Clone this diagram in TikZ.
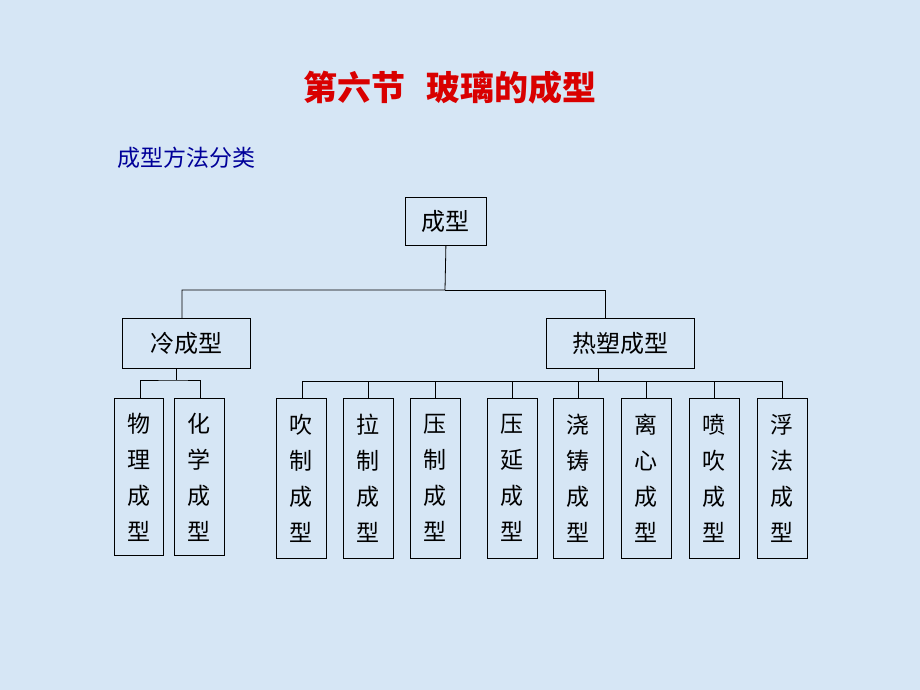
\documentclass[tikz,border=0pt]{standalone}
\usepackage{fontspec}
\newfontfamily\cjk{Noto Sans CJK SC}
\begin{document}
\begin{tikzpicture}[x=1pt,y=-1pt,
 box/.style={draw,line width=0.8pt,font=\cjk\fontsize{24}{30}\selectfont,inner sep=0pt,anchor=north west},
 vbox/.style={box,align=center,font=\cjk\fontsize{23}{36}\selectfont},
 ln/.style={line width=0.8pt}]
\fill[fill={rgb,255:red,214;green,230;blue,245}] (0,0) rectangle (920,690);
\useasboundingbox (0,0) rectangle (920,690);
\node (t) at (450,88) {\cjk\bfseries\fontsize{34}{38}\selectfont\color{red!85!black}第六节\hspace{0.6em}玻璃的成型};
\node[anchor=west] (s) at (114,158) {\cjk\fontsize{23}{26}\selectfont\color{blue!60!black}成型方法分类};
\node[box,minimum width=81,minimum height=48] (r) at (405,197) {成型};
\node[box,minimum width=128,minimum height=50] (c) at (122,318) {冷成型};
\node[box,minimum width=148,minimum height=50] (h) at (546,318) {热塑成型};
\coordinate (c1) at (182,318); \coordinate (h1) at (605,318);
\draw[ln] (r.south) -- (445,290) -| (c1); \draw[ln] (445,290) -| (h1);
\node[vbox,minimum width=49,minimum height=157] (p) at (114,398) {物\\理\\成\\型};
\node[vbox,minimum width=50,minimum height=157] (q) at (174,398) {化\\学\\成\\型};
\foreach \n/\x/\u/\v in {a/276/吹/制,b/343/拉/制,d/410/压/制,e/487/压/延,f/553/浇/铸,g/621/离/心,k/689/喷/吹,m/757/浮/法}{
 \node[vbox,minimum width=50,minimum height=160] (\n) at (\x,398) {\u\\\v\\成\\型};}
\draw[ln] (c.south -| 176,0) -- (176,380);
\draw[ln] (p.north -| 140,0) |- (176,380) -| (q.north -| 200,0);
\draw[ln] (598,368) -- (598,381);
\draw[ln] (a.north -| 302,0) |- (782,381) -- (m.north -| 782,0);
\foreach \n/\x in {b/368,d/435,e/512,f/578,g/646,k/714}{\draw[ln] (\x,381) -- (\n.north -| \x,0);}
\end{tikzpicture}
\end{document}
